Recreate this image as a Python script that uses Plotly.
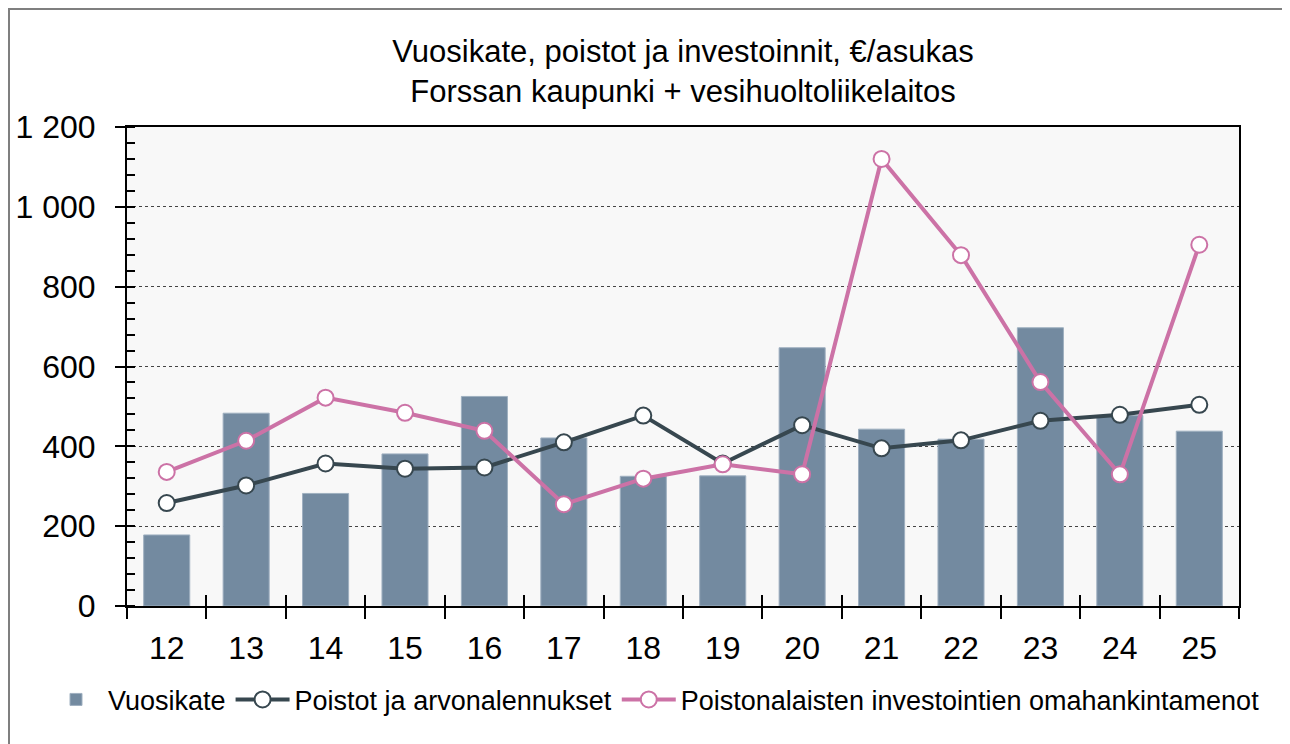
import plotly.graph_objects as go

years = ["12", "13", "14", "15", "16", "17", "18", "19", "20", "21", "22", "23", "24", "25"]
vuosikate = [178, 483, 282, 381, 525, 421, 325, 326, 647, 443, 418, 697, 477, 438]
poistot = [258, 302, 357, 344, 347, 410, 477, 357, 453, 395, 415, 464, 479, 504]
investoinnit = [336, 414, 522, 484, 439, 255, 319, 355, 330, 1120, 879, 561, 330, 905]

FONT = "Liberation Sans, Arial, sans-serif"
DARK = "#37474f"
PINK = "#cc72a6"
BAR = "#738aa0"

W, H = 1282, 736
ML, MR, MT, MB = 119, 51, 119, 138
PW, PH = W - ML - MR, H - MT - MB

fig = go.Figure()
fig.add_trace(go.Bar(
    x=years, y=vuosikate, name="Vuosikate",
    marker=dict(color=BAR, line=dict(color="#9fb0c0", width=1)),
))
fig.add_trace(go.Scatter(
    x=years, y=poistot, name="Poistot ja arvonalennukset", mode="lines+markers",
    line=dict(color=DARK, width=4),
    marker=dict(size=16, color="white", line=dict(color=DARK, width=2)),
))
fig.add_trace(go.Scatter(
    x=years, y=investoinnit, name="Poistonalaisten investointien omahankintamenot",
    mode="lines+markers",
    line=dict(color=PINK, width=4),
    marker=dict(size=16, color="white", line=dict(color=PINK, width=2)),
))
# invisible helper trace for the inner half of the category-boundary ticks
fig.add_trace(go.Scatter(
    x=years, y=vuosikate, xaxis="x2", mode="markers", marker=dict(opacity=0),
    showlegend=False, hoverinfo="skip",
))

fig.update_layout(
    width=W, height=H,
    paper_bgcolor="white", plot_bgcolor="#f8f8f8",
    font=dict(family=FONT, color="black"),
    separators=", ",
    margin=dict(l=ML, r=MR, t=MT, b=MB, autoexpand=False),
    bargap=0.42,
    title=dict(
        text="Vuosikate, poistot ja investoinnit, €/asukas<br>Forssan kaupunki + vesihuoltoliikelaitos",
        x=(ML + PW / 2) / W, xanchor="center", y=1 - 54 / H, yanchor="middle",
        font=dict(size=31, family=FONT, color="black"),
    ),
    showlegend=True,
    legend=dict(
        orientation="h", x=(36 - ML) / PW, xanchor="left", y=-0.196, yanchor="middle",
        font=dict(size=27, family=FONT, color="black"),
        itemwidth=54, tracegroupgap=0, bgcolor="rgba(0,0,0,0)",
    ),
    xaxis=dict(
        type="category", categoryorder="array", categoryarray=years,
        range=[-0.5, 13.5],
        tickson="boundaries", ticks="outside", ticklen=11, tickwidth=1.5, tickcolor="black",
        showline=True, linecolor="black", linewidth=2, mirror=True,
        showgrid=False, tickfont=dict(size=32, family=FONT, color="black"),
        ticklabelstandoff=13,
    ),
    xaxis2=dict(
        type="category", categoryorder="array", categoryarray=years,
        range=[-0.5, 13.5], overlaying="x", side="bottom", anchor="y",
        tickson="boundaries", ticks="inside", ticklen=11, tickwidth=1.5, tickcolor="black",
        showticklabels=False, showgrid=False, showline=False,
    ),
    yaxis=dict(
        range=[0, 1200], dtick=200, tick0=0,
        ticks="outside", ticklen=10, tickwidth=1.5, tickcolor="black",
        separatethousands=True, tickformat=",d",
        showline=True, linecolor="black", linewidth=2, mirror=True,
        showgrid=True, gridcolor="#444444", gridwidth=1, griddash="dot",
        zeroline=False,
        tickfont=dict(size=32, family=FONT, color="black"),
        ticklabelstandoff=13,
        minor=dict(dtick=40, ticks="inside", ticklen=8, tickwidth=1.5, tickcolor="black", showgrid=False),
    ),
    shapes=[dict(
        type="rect", xref="paper", yref="paper",
        x0=(1 - ML) / PW, x1=(W + 20 - ML) / PW,
        y0=-(MB + 20) / PH, y1=(PH + MT - 1) / PH,
        line=dict(color="#7f7f7f", width=2), fillcolor="rgba(0,0,0,0)", layer="below",
    )],
)

fig.write_html("out.html")
